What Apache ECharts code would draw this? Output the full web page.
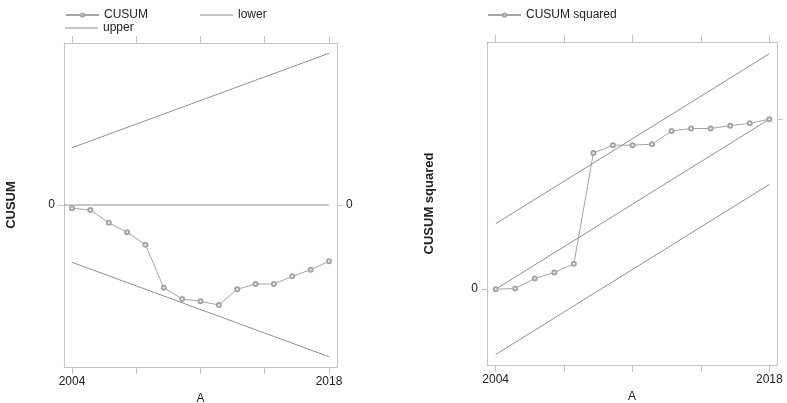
<!DOCTYPE html>
<html>
<head>
<meta charset="utf-8">
<script src="https://cdn.jsdelivr.net/npm/echarts@6/dist/echarts.min.js"></script>
<style>
  html, body { margin: 0; padding: 0; background: #fff; }
  #chart { width: 787px; height: 403px; }
</style>
</head>
<body>
<div id="chart"></div>
<script>
// years on the x axis
const years = [2004, 2005, 2006, 2007, 2008, 2009, 2010, 2011, 2012, 2013, 2014, 2015, 2016, 2017, 2018]
const boundYears = [2004, 2018]
const xTicks = [2004, 2007.5, 2011, 2014.5, 2018]
const xLabels = [2004, 2018]

// left panel: CUSUM with 5% bounds
const cusum = [-0.33, -0.5, -1.77, -2.73, -3.97, -8.27, -9.4, -9.63, -10.0, -8.43, -7.9, -7.9, -7.13, -6.47, -5.63]
const cusumLower = [-5.73, -15.17]
const cusumUpper = [5.73, 15.17]

// right panel: CUSUM of squares with bounds
const cusumSq = [0, 0.004, 0.063, 0.098, 0.149, 0.801, 0.847, 0.847, 0.853, 0.931, 0.945, 0.945, 0.962, 0.976, 1.0]
const sqMid = [0, 1]
const sqUpper = [0.385, 1.385]
const sqLower = [-0.384, 0.616]

const FONT = 'Liberation Sans, Arial, sans-serif'
const BOX = '#c4c4c4'
const LINE = '#909090'
const MARK = '#a4a4a4'
const TEXT = '#222'

const zip = (xs, ys) => xs.map((x, i) => [x, ys[i]])

function bottomAxis(grid, min, max) {
  return {
    type: 'value', gridIndex: grid, position: 'bottom', min, max,
    name: 'A', nameLocation: 'middle', nameGap: 25,
    nameTextStyle: { fontFamily: FONT, fontSize: 12, color: TEXT },
    splitLine: { show: false },
    axisLine: { onZero: false, lineStyle: { color: BOX, width: 1 } },
    axisTick: { length: 7, lineStyle: { color: BOX }, customValues: xTicks },
    axisLabel: { margin: 9, fontFamily: FONT, fontSize: 12, color: TEXT, customValues: xLabels, formatter: v => String(v) }
  }
}

function topAxis(grid, min, max) {
  return {
    type: 'value', gridIndex: grid, position: 'top', min, max,
    splitLine: { show: false },
    axisLine: { onZero: false, lineStyle: { color: BOX, width: 1 } },
    axisTick: { length: 7, lineStyle: { color: BOX }, customValues: xTicks },
    axisLabel: { show: false }
  }
}

function sideAxis(grid, pos, min, max, tickVals, labelVals, name) {
  return {
    type: 'value', gridIndex: grid, position: pos, min, max,
    name: name || '', nameLocation: 'middle', nameGap: name ? (grid === 0 ? 46 : 51) : 0,
    nameTextStyle: { fontFamily: FONT, fontSize: 13, fontWeight: 'bold', color: TEXT },
    splitLine: { show: false },
    axisLine: { onZero: false, lineStyle: { color: BOX, width: 1 } },
    axisTick: { length: 6, lineStyle: { color: BOX }, customValues: tickVals },
    axisLabel: { margin: 9, fontFamily: FONT, fontSize: 12, color: TEXT, customValues: labelVals, formatter: v => String(v) }
  }
}

const xMinL = 2003.564, xMaxL = 2018.436
const xMinR = 2003.555, xMaxR = 2018.394

function lineSeries(name, xi, yi, data, withSymbol) {
  return {
    name, type: 'line', xAxisIndex: xi, yAxisIndex: yi, data,
    symbol: withSymbol ? 'emptyCircle' : 'none', symbolSize: 4,
    showSymbol: !!withSymbol,
    lineStyle: { color: withSymbol ? MARK : LINE, width: 1 },
    itemStyle: { color: MARK, borderWidth: 0.8 },
    animation: false, silent: true
  }
}

function legend(name, left, top, plain) {
  return {
    data: [plain ? { name, icon: 'rect', itemStyle: { color: LINE } } : name],
    left, top, itemWidth: 33, itemHeight: plain ? 1 : 4, itemGap: 4,
    textStyle: { fontFamily: FONT, fontSize: 12, color: TEXT },
    selectedMode: false
  }
}

const chart = echarts.init(document.getElementById('chart'))
chart.setOption({
  animation: false,
  legend: [
    legend('CUSUM', 60, 4),
    legend('lower', 195, 4, true),
    legend('upper', 60, 17, true),
    legend('CUSUM squared', 482, 4)
  ],
  grid: [
    { left: 64, top: 43, width: 273, height: 324, outerBoundsMode: 'none', containLabel: false },
    { left: 487, top: 42, width: 290, height: 323, outerBoundsMode: 'none', containLabel: false }
  ],
  xAxis: [
    bottomAxis(0, xMinL, xMaxL),
    topAxis(0, xMinL, xMaxL),
    bottomAxis(1, xMinR, xMaxR),
    topAxis(1, xMinR, xMaxR)
  ],
  yAxis: [
    sideAxis(0, 'left', -16.2, 16.2, [0], [0], 'CUSUM'),
    sideAxis(0, 'right', -16.2, 16.2, [0], [0]),
    sideAxis(1, 'left', -0.446, 1.454, [0], [0], 'CUSUM squared'),
    sideAxis(1, 'right', -0.446, 1.454, [1], [])
  ],
  series: [
    lineSeries('CUSUM', 0, 0, zip(years, cusum), true),
    lineSeries('lower', 0, 0, zip(boundYears, cusumLower)),
    lineSeries('upper', 0, 0, zip(boundYears, cusumUpper)),
    lineSeries('zero', 0, 0, [[xMinL, 0], [2018, 0]]),
    lineSeries('CUSUM squared', 2, 2, zip(years, cusumSq), true),
    lineSeries('sqMid', 2, 2, zip(boundYears, sqMid)),
    lineSeries('sqUpper', 2, 2, zip(boundYears, sqUpper)),
    lineSeries('sqLower', 2, 2, zip(boundYears, sqLower))
  ]
})
</script>
</body>
</html>
